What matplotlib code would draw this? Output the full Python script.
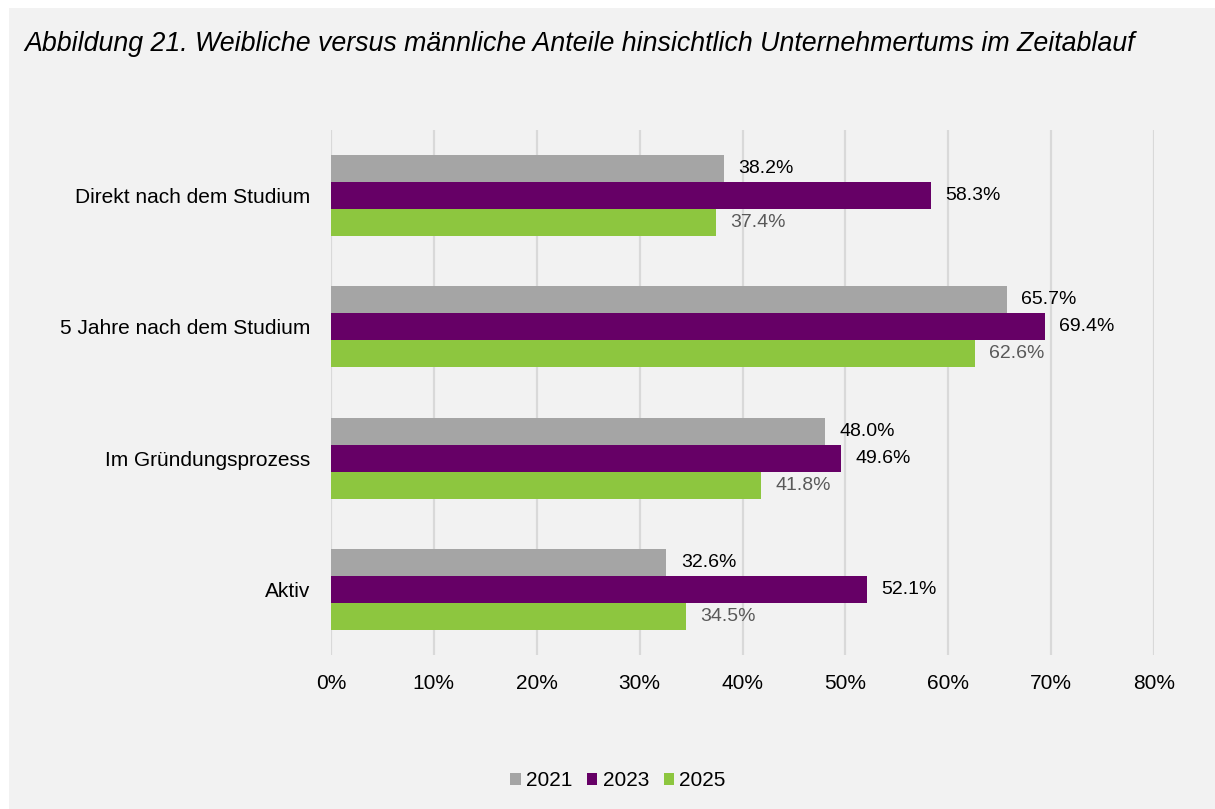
import numpy as np
import matplotlib.pyplot as plt
from matplotlib.patches import Rectangle
from matplotlib.ticker import FuncFormatter

plt.rcParams['font.family'] = ['Liberation Sans', 'DejaVu Sans']

# ---------------------------
# DATA
# ---------------------------
categories = ["Direkt nach dem Studium", "5 Jahre nach dem Studium",
              "Im Gründungsprozess", "Aktiv"]
years = ["2021", "2023", "2025"]
v2021 = [38.2, 65.7, 48.0, 32.6]
v2023 = [58.3, 69.4, 49.6, 52.1]
v2025 = [37.4, 62.6, 41.8, 34.5]

colors = ["#a5a5a5", "#660066", "#8dc63f"]
label_colors = ["#000000", "#000000", "#595959"]

# ---------------------------
# PLOT
# ---------------------------
fig = plt.figure(figsize=(12.15, 8.09), dpi=100)
fig.patch.set_facecolor("white")
fig.patches.append(Rectangle((9 / 1215, 0), 1 - 9 / 1215, 1 - 8 / 809,
                             transform=fig.transFigure, facecolor="#f2f2f2",
                             edgecolor="none", zorder=-10))

ax = fig.add_axes([331 / 1215, 1 - 655 / 809, (1154 - 331) / 1215, 525 / 809])
ax.set_facecolor("#f2f2f2")

y = np.arange(len(categories))
bh = 0.206
for i, (vals, yr) in enumerate(zip([v2021, v2023, v2025], years)):
    pos = y + (i - 1) * bh
    ax.barh(pos, vals, height=bh, color=colors[i], label=yr, zorder=3)
    for p, v in zip(pos, vals):
        ax.text(v + 1.4, p, f"{v:.1f}%", va="center", ha="left",
                fontsize=14, color=label_colors[i])

ax.set_xlim(0, 80)
ax.set_ylim(3.5, -0.5)
ax.set_xticks(np.arange(0, 81, 10))
ax.xaxis.set_major_formatter(FuncFormatter(lambda x, _: f"{x:.0f}%"))
ax.set_yticks(y)
ax.set_yticklabels(categories)
ax.tick_params(axis="both", length=0, labelsize=15)
ax.tick_params(axis="x", pad=14)
ax.tick_params(axis="y", pad=15)
ax.grid(axis="x", color="#d9d9d9", linewidth=1.6, zorder=0)
for s in ax.spines.values():
    s.set_visible(False)

fig.text(24 / 1215, 1 - 44 / 809,
         "Abbildung 21. Weibliche versus männliche Anteile hinsichtlich Unternehmertums im Zeitablauf",
         fontsize=19.3, style="italic", va="center", ha="left")

fig.legend(loc="center", bbox_to_anchor=(618 / 1215, 1 - 781 / 809), ncol=3,
           frameon=False, fontsize=15, handlelength=0.5, handleheight=0.5,
           handletextpad=0.25, columnspacing=0.7)

plt.savefig("out.png", dpi=100, facecolor=fig.get_facecolor())
